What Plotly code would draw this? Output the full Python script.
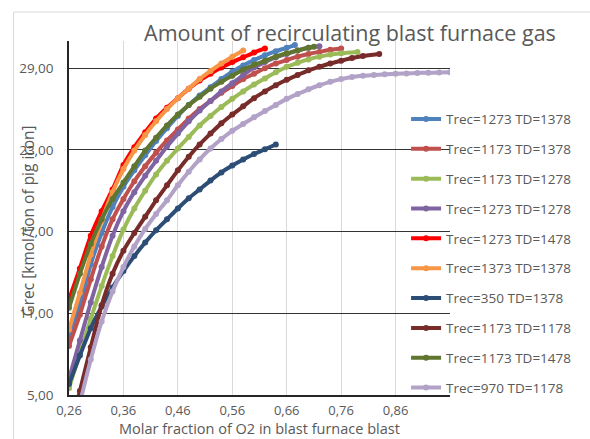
import plotly.graph_objects as go

# ---------------- data ----------------
series_names = [
    "Trec=1273 TD=1378", "Trec=1173 TD=1378", "Trec=1173 TD=1278",
    "Trec=1273 TD=1278", "Trec=1273 TD=1478", "Trec=1373 TD=1378",
    "Trec=350 TD=1378", "Trec=1173 TD=1178", "Trec=1173 TD=1478",
    "Trec=970 TD=1178",
]

x_1273_1378 = [0.26, 0.28, 0.30, 0.32, 0.34, 0.36, 0.38, 0.40, 0.42, 0.44, 0.46, 0.48, 0.50, 0.52, 0.54, 0.56, 0.58, 0.60, 0.62, 0.64, 0.66, 0.675]
y_1273_1378 = [9.2, 11.6, 14.6, 16.9, 18.8, 20.3, 21.5, 22.6, 23.65, 24.6, 25.5, 26.3, 27.0, 27.6, 28.2, 28.75, 29.2, 29.6, 29.95, 30.25, 30.5, 30.7]

x_1173_1378 = [0.26, 0.28, 0.30, 0.32, 0.34, 0.36, 0.38, 0.40, 0.42, 0.44, 0.46, 0.48, 0.50, 0.52, 0.54, 0.56, 0.58, 0.60, 0.62, 0.64, 0.66, 0.68, 0.70, 0.72, 0.74, 0.76]
y_1173_1378 = [8.6, 10.9, 13.5, 15.9, 17.9, 19.4, 20.7, 21.8, 22.8, 23.7, 24.5, 25.3, 26.0, 26.6, 27.2, 27.7, 28.2, 28.6, 29.0, 29.35, 29.6, 29.85, 30.05, 30.2, 30.35, 30.45]

x_1173_1278 = [0.26, 0.28, 0.30, 0.32, 0.34, 0.36, 0.38, 0.40, 0.42, 0.44, 0.46, 0.48, 0.50, 0.52, 0.54, 0.56, 0.58, 0.60, 0.62, 0.64, 0.66, 0.68, 0.70, 0.72, 0.74, 0.76, 0.79]
y_1173_1278 = [5.5, 8.1, 10.6, 13.0, 15.2, 17.15, 18.7, 20.0, 21.2, 22.2, 23.1, 23.95, 24.8, 25.5, 26.15, 26.75, 27.3, 27.8, 28.25, 28.7, 29.1, 29.4, 29.65, 29.85, 30.0, 30.1, 30.2]

x_1273_1278 = [0.26, 0.28, 0.30, 0.32, 0.34, 0.36, 0.38, 0.40, 0.42, 0.44, 0.46, 0.48, 0.50, 0.52, 0.54, 0.56, 0.58, 0.60, 0.62, 0.64, 0.66, 0.68, 0.70, 0.72]
y_1273_1278 = [6.2, 9.0, 11.8, 14.4, 16.7, 18.5, 19.9, 21.1, 22.2, 23.25, 24.2, 25.1, 25.9, 26.6, 27.3, 27.9, 28.5, 29.05, 29.45, 29.8, 30.05, 30.3, 30.5, 30.62]

x_1273_1478 = [0.26, 0.28, 0.30, 0.32, 0.34, 0.36, 0.38, 0.40, 0.42, 0.44, 0.46, 0.48, 0.50, 0.52, 0.54, 0.56, 0.58, 0.60, 0.62]
y_1273_1478 = [12.0, 14.3, 16.7, 18.5, 20.1, 21.9, 23.2, 24.3, 25.3, 26.1, 26.8, 27.5, 28.1, 28.6, 29.05, 29.45, 29.8, 30.15, 30.45]

x_1373_1378 = [0.26, 0.28, 0.30, 0.32, 0.34, 0.36, 0.38, 0.40, 0.42, 0.44, 0.46, 0.48, 0.50, 0.52, 0.54, 0.56, 0.58]
y_1373_1378 = [9.8, 12.5, 15.3, 17.8, 19.9, 21.6, 22.95, 24.1, 25.1, 26.0, 26.8, 27.5, 28.2, 28.8, 29.35, 29.85, 30.3]

x_350_1378 = [0.26, 0.28, 0.30, 0.32, 0.34, 0.36, 0.38, 0.40, 0.42, 0.44, 0.46, 0.48, 0.50, 0.52, 0.54, 0.56, 0.58, 0.60, 0.62, 0.64]
y_350_1378 = [5.8, 7.9, 9.9, 11.5, 12.9, 14.1, 15.2, 16.2, 17.1, 17.9, 18.7, 19.45, 20.1, 20.75, 21.35, 21.85, 22.3, 22.7, 23.05, 23.4]

x_1173_1178 = [0.27, 0.28, 0.30, 0.32, 0.34, 0.36, 0.38, 0.40, 0.42, 0.44, 0.46, 0.48, 0.50, 0.52, 0.54, 0.56, 0.58, 0.60, 0.62, 0.64, 0.66, 0.68, 0.70, 0.72, 0.74, 0.76, 0.78, 0.80, 0.83]
y_1173_1178 = [3.6, 5.3, 8.5, 11.6, 13.9, 15.6, 16.9, 18.1, 19.3, 20.4, 21.5, 22.5, 23.4, 24.2, 24.95, 25.6, 26.2, 26.8, 27.3, 27.75, 28.15, 28.5, 28.85, 29.1, 29.35, 29.55, 29.75, 29.9, 30.05]

x_1173_1478 = [0.26, 0.28, 0.30, 0.32, 0.34, 0.36, 0.38, 0.40, 0.42, 0.44, 0.46, 0.48, 0.50, 0.52, 0.54, 0.56, 0.58, 0.60, 0.62, 0.64, 0.66, 0.68, 0.70, 0.71]
y_1173_1478 = [11.4, 13.9, 16.1, 17.9, 19.4, 20.6, 21.8, 22.95, 23.9, 24.8, 25.6, 26.3, 26.9, 27.5, 28.0, 28.45, 28.9, 29.25, 29.55, 29.85, 30.1, 30.3, 30.5, 30.57]

x_970_1178 = [0.28, 0.30, 0.32, 0.34, 0.36, 0.38, 0.40, 0.42, 0.44, 0.46, 0.48, 0.50, 0.52, 0.54, 0.56, 0.58, 0.60, 0.62, 0.64, 0.66, 0.68, 0.70, 0.72, 0.74, 0.76, 0.78, 0.80, 0.82, 0.84, 0.86, 0.88, 0.90, 0.92, 0.94, 0.96]
y_970_1178 = [4.4, 7.6, 10.4, 12.6, 14.4, 15.9, 17.2, 18.3, 19.3, 20.4, 21.4, 22.3, 23.1, 23.8, 24.4, 24.9, 25.4, 25.85, 26.3, 26.75, 27.1, 27.45, 27.75, 28.0, 28.2, 28.35, 28.45, 28.5, 28.55, 28.6, 28.62, 28.65, 28.67, 28.68, 28.7]

x_ticks = [0.26, 0.36, 0.46, 0.56, 0.66, 0.76, 0.86, 0.96]
x_tick_labels = ["0,26", "0,36", "0,46", "0,56", "0,66", "0,76", "0,86", ""]
y_ticks = [5, 11, 17, 23, 29]
y_tick_labels = ["5,00", "11,00", "17,00", "23,00", "29,00"]

series_x = [x_1273_1378, x_1173_1378, x_1173_1278, x_1273_1278, x_1273_1478,
            x_1373_1378, x_350_1378, x_1173_1178, x_1173_1478, x_970_1178]
series_y = [y_1273_1378, y_1173_1378, y_1173_1278, y_1273_1278, y_1273_1478,
            y_1373_1378, y_350_1378, y_1173_1178, y_1173_1478, y_970_1178]

# ---------------- styles ----------------
colors = ["#4F81BD", "#C0504D", "#9BBB59", "#8064A2", "#FF0000",
          "#F79646", "#2C4D75", "#772C2A", "#5F7530", "#B3A2C7"]

FONT = "Open Sans"
GRAY = "#595959"

# plot-area geometry in pixels
L, R, T, B = 68.5, 450.0, 41.0, 395.0
PW, PH = R - L, B - T

fig = go.Figure()
for i, name in enumerate(series_names):
    fig.add_trace(go.Scatter(
        x=series_x[i], y=series_y[i], name=name, mode="lines+markers",
        line=dict(color=colors[i], width=4, shape="spline", smoothing=0.6),
        marker=dict(color=colors[i], size=6, symbol="circle"),
        legendgroup=f"g{i}",
    ))

fig.update_layout(
    width=590, height=439,
    margin=dict(l=L, r=590 - R, t=T, b=439 - B, autoexpand=False),
    paper_bgcolor="white", plot_bgcolor="white",
    font=dict(family=FONT, color=GRAY, size=13),
    showlegend=True,
    legend=dict(
        x=0.8847, xanchor="left", y=0.823, yanchor="top",
        bgcolor="rgba(0,0,0,0)", font=dict(size=13.5, color=GRAY, family=FONT),
        traceorder="grouped", tracegroupgap=9.3, itemwidth=30,
    ),
    xaxis=dict(
        range=[0.26, 0.96], tickvals=x_ticks, ticktext=x_tick_labels,
        showgrid=True, gridcolor="#D9D9D9", gridwidth=1,
        showline=True, linecolor="#262626", linewidth=1.5,
        zeroline=False, ticks="", ticklabelstandoff=3, automargin=False,
        tickfont=dict(size=13, color=GRAY),
    ),
    yaxis=dict(
        range=[5, 31], tickvals=y_ticks, ticktext=y_tick_labels,
        showgrid=True, gridcolor="#333333", gridwidth=1.3,
        showline=True, linecolor="#262626", linewidth=1.5,
        zeroline=False, ticks="", ticklabelstandoff=11, automargin=False,
        tickfont=dict(size=13.5, color=GRAY),
    ),
    title=dict(text="Amount of recirculating blast furnace gas",
               font=dict(size=21.5, color=GRAY, family=FONT),
               xref="container", x=350 / 590, xanchor="center",
               yref="container", y=1 - 33 / 439, yanchor="middle"),
    annotations=[
        dict(text="Grec [kmol/ton of pig iron]", textangle=-90,
             xref="paper", yref="paper",
             x=(27 - L) / PW, y=(B - 221) / PH,
             xanchor="center", yanchor="middle", showarrow=False,
             font=dict(size=15.5, color=GRAY, family=FONT)),
        dict(text="Molar fraction of O2 in blast furnace blast",
             xref="paper", yref="paper",
             x=(259 - L) / PW, y=(B - 429) / PH,
             xanchor="center", yanchor="middle", showarrow=False,
             font=dict(size=14.5, color=GRAY, family=FONT)),
    ],
    shapes=[dict(
        type="rect", xref="paper", yref="paper",
        x0=(13 - L) / PW, x1=2.0,
        y0=-1.0, y1=(B - 12) / PH,
        line=dict(color="#D9D9D9", width=1), fillcolor="rgba(0,0,0,0)",
        layer="below",
    )],
)

fig.write_html("out.html")
